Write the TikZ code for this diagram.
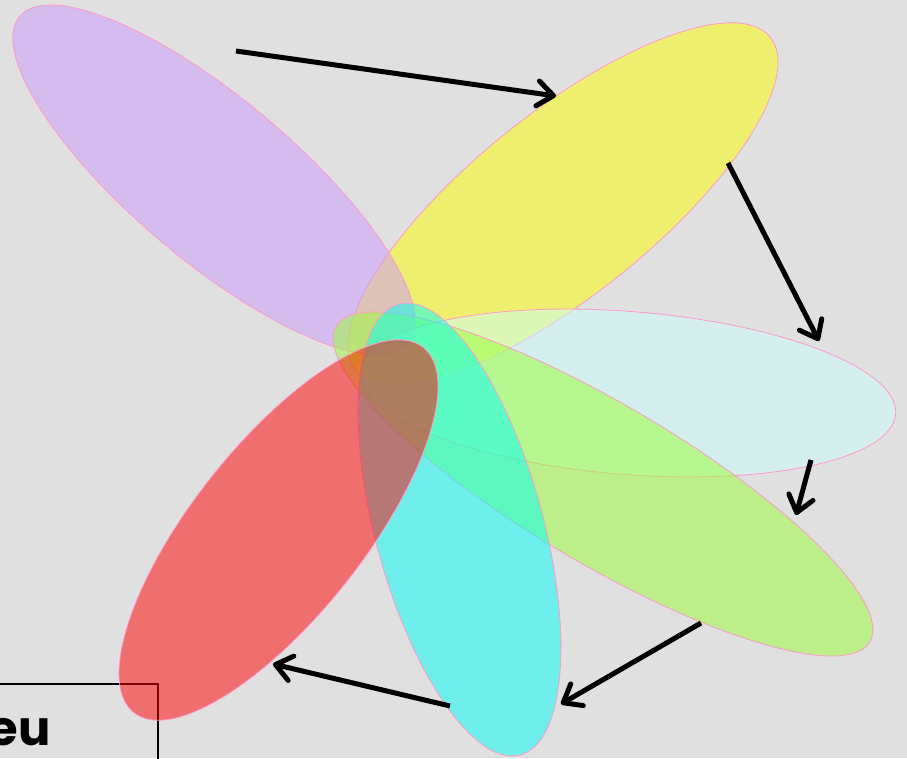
\documentclass[tikz,border=0pt]{standalone}
\usepackage{fontspec}
\newfontfamily\popfont{Poppins}
\usetikzlibrary{shapes.geometric,arrows.meta}
\definecolor{bg}{HTML}{E0E0E0}
\definecolor{petalline}{HTML}{FF99CC}
\definecolor{cpurple}{HTML}{CC99FF}
\definecolor{cyellow}{HTML}{FFFF00}
\definecolor{cice}{HTML}{CCFFFF}
\definecolor{cgreen}{HTML}{99FF33}
\definecolor{ccyan}{HTML}{00FFF8}
\definecolor{cred}{HTML}{FF0000}
\begin{document}
\begin{tikzpicture}[x=1pt,y=-1pt,
  petal/.style={ellipse, draw=petalline, line width=0.8pt, fill opacity=0.5, inner sep=0pt, outer sep=0pt},
  flow/.style={line width=5pt, -{Straight Barb[length=16pt,width=25pt,round]}},
  ]
\fill[bg] (0,0) rectangle (907,758);
\useasboundingbox (0,0) rectangle (907,758);
% box with partially visible text
\node[draw, line width=2pt, minimum width=300pt, minimum height=200pt, anchor=north east, inner sep=0pt] (box) at (159,683) {};
\node[font=\popfont\bfseries\fontsize{48}{48}\selectfont, anchor=base east, inner sep=0pt] (boxtext) at (51,745) {eu};
% petals
\node[petal, fill=cyellow, minimum width=532pt, minimum height=182pt, rotate=38.8] (yellow) at (563,204) {};
\node[petal, fill=cpurple, minimum width=508pt, minimum height=162pt, rotate=-40.1] (purple) at (214,180) {};
\node[petal, fill=cice, minimum width=537pt, minimum height=163pt, rotate=-4.5] (ice) at (628,393) {};
\node[petal, fill=cgreen, minimum width=620pt, minimum height=159pt, rotate=-30.6] (green) at (603,484) {};
\node[petal, fill=ccyan, minimum width=467pt, minimum height=168pt, rotate=-74.9] (cyan) at (459.5,529.5) {};
\node[petal, fill=cred, minimum width=466pt, minimum height=171pt, rotate=51.6] (red) at (278.5,530) {};
% arrow ends
\coordinate (a1s) at (236,51);  \coordinate (a1e) at (556,96);
\coordinate (a2s) at (728,163); \coordinate (a2e) at (819,341);
\coordinate (a3s) at (811,460); \coordinate (a3e) at (796,515);
\coordinate (a4s) at (701,623); \coordinate (a4e) at (561,704);
\coordinate (a5s) at (450,706); \coordinate (a5e) at (273,664);
\draw[flow] (a1s) -- (a1e);
\draw[flow] (a2s) -- (a2e);
\draw[flow] (a3s) -- (a3e);
\draw[flow] (a4s) -- (a4e);
\draw[flow] (a5s) -- (a5e);
\end{tikzpicture}
\end{document}
